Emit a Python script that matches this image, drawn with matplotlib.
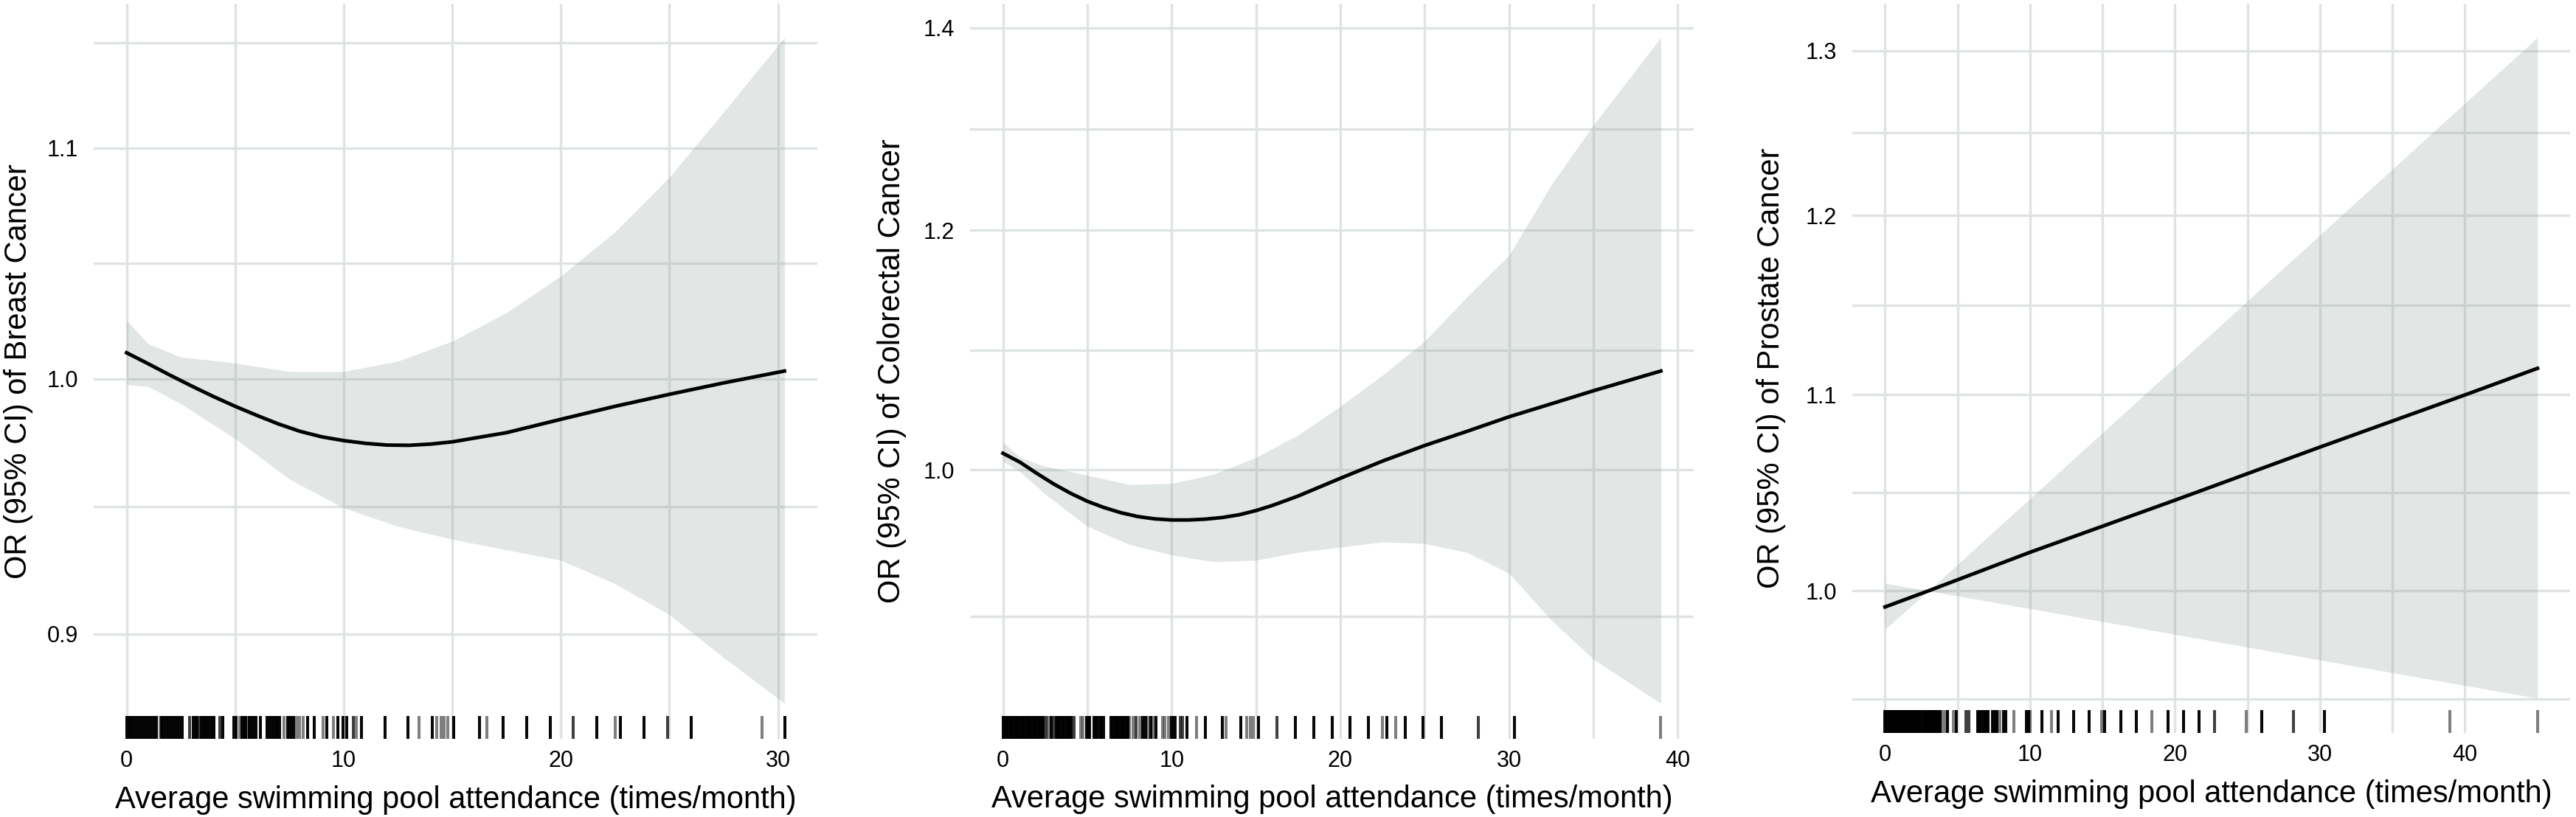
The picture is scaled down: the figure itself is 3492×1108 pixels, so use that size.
import numpy as np
import matplotlib.pyplot as plt
from matplotlib.ticker import FixedLocator, FixedFormatter, NullFormatter
import matplotlib.transforms as mtransforms

plt.rcParams['font.family'] = ['Liberation Sans', 'DejaVu Sans']

# ---- Breast cancer ----
x_breast = [0, 1, 2, 3, 4, 5, 6, 7, 8, 9, 10, 11, 12, 13, 14, 15, 17.5, 20, 22.5, 25, 27.5, 30.3]
or_breast = [1.0108, 1.0062, 1.0015, 0.9970, 0.9927, 0.9887, 0.9850, 0.9815, 0.9785, 0.9763, 0.9748,
             0.9737, 0.9730, 0.9729, 0.9734, 0.9743, 0.9780, 0.9834, 0.9887, 0.9936, 0.9983, 1.0032]
x_breast_ci = [0, 1, 2.5, 5, 7.5, 10, 12.5, 15, 17.5, 20, 22.5, 25, 27.5, 30.3]
hi_breast = [1.0244, 1.0145, 1.0090, 1.0065, 1.0030, 1.0030, 1.0073, 1.0156, 1.0277, 1.0433, 1.0625, 1.0868, 1.1164, 1.1513]
lo_breast = [0.9976, 0.9968, 0.9897, 0.9756, 0.9594, 0.9481, 0.9409, 0.9359, 0.9318, 0.9278, 0.9189, 0.9072, 0.8913, 0.8746]
rug_breast_many = [0, 0.1, 0.2, 0.3, 0.4, 0.5, 0.6, 0.7, 0.8, 0.9, 1.0, 1.1, 1.2, 1.3, 1.36, 1.62, 1.72,
                   1.82, 1.92, 2.02, 2.12, 2.22, 2.32, 2.43, 2.55, 3.06, 3.16, 3.23, 3.45, 3.55, 3.62, 3.74,
                   3.84, 3.94, 4.02, 4.42, 4.93, 5.04, 5.32, 5.42, 5.49, 5.66, 5.76, 5.86, 5.96, 6.17, 6.46,
                   6.56, 6.66, 6.76, 6.86, 6.96, 7.06, 7.42, 7.52, 7.62, 7.7, 8.33, 8.64, 9.23, 9.72, 9.97,
                   10.14, 10.82, 11.9, 12.97, 14.08, 15.05, 16.25, 17.33, 18.42, 19.5, 21.67, 22.75, 23.83,
                   26.0, 30.33]
rug_breast_two = [2.89, 3.34, 4.3, 10.46, 20.58, 24.92]
rug_breast_one = [1.53, 3.68, 5.22, 5.61, 7.25, 7.82, 7.98, 8.13, 9.06, 9.52, 10.59, 13.48, 14.27, 14.5,
                  14.62, 14.8, 16.6, 22.5, 29.25]

# ---- Colorectal cancer ----
x_crc = [0, 1, 2, 3, 4, 5, 6, 7, 8, 9, 10, 11, 12, 13, 14, 15, 16, 17.5, 20, 22.5, 25, 27.5, 30, 32.5, 35, 39]
or_crc = [1.0128, 1.0060, 0.9975, 0.9895, 0.9825, 0.9765, 0.9718, 0.9680, 0.9652, 0.9635, 0.9627, 0.9627,
          0.9633, 0.9645, 0.9665, 0.9696, 0.9735, 0.9804, 0.9937, 1.0068, 1.0188, 1.0298, 1.0413, 1.0516,
          1.0621, 1.0782]
x_crc_ci = [0, 1, 2.5, 5, 7.5, 10, 12.5, 15, 17.5, 20, 22.5, 25, 27.5, 30, 32.5, 35, 39]
hi_crc = [1.0216, 1.0096, 1.0028, 0.9960, 0.9890, 0.9898, 0.9968, 1.0096, 1.0270, 1.0496, 1.0748, 1.1029,
          1.1406, 1.1774, 1.2421, 1.3000, 1.3895]
lo_crc = [1.0068, 0.9988, 0.9819, 0.9581, 0.9449, 0.9374, 0.9326, 0.9337, 0.9393, 0.9430, 0.9468, 0.9456,
          0.9393, 0.9245, 0.8921, 0.8660, 0.8373]
rug_crc_many = [0, 0.1, 0.2, 0.3, 0.4, 0.5, 0.6, 0.7, 0.8, 0.9, 1.0, 1.1, 1.2, 1.3, 1.4, 1.5, 1.6, 1.7, 1.8,
                1.9, 2.0, 2.1, 2.2, 2.3, 2.4, 2.85, 3.16, 3.26, 3.36, 3.46, 3.56, 3.66, 3.76, 3.86, 3.96,
                4.06, 4.95, 5.05, 5.15, 5.4, 5.5, 5.57, 5.75, 5.85, 5.95, 6.4, 6.5, 6.6, 6.7, 6.8, 6.9, 7.0,
                7.1, 7.2, 7.3, 7.39, 8.3, 8.45, 8.75, 9.05, 9.97, 10.1, 10.2, 10.9, 12.0, 13.0, 14.08,
                15.17, 17.33, 18.42, 19.5, 20.58, 21.67, 22.75, 23.83, 24.92, 26.0, 30.33]
rug_crc_two = [2.55, 3.0, 4.2, 7.9, 10.5, 10.65, 16.25, 28.17]
rug_crc_one = [2.7, 4.62, 4.75, 7.5, 7.7, 8.1, 8.6, 8.9, 9.45, 9.6, 9.8, 11.47, 13.22, 14.46, 14.65, 14.85,
               22.5, 23.3, 39.0]

# ---- Prostate cancer ----
x_pc = [0, 3, 10, 20, 30, 40, 45]
or_pc = [0.9922, 1.0000, 1.0189, 1.0450, 1.0723, 1.0998, 1.1141]
x_pc_ci = [0, 3, 10, 20, 30, 40, 45]
hi_pc = [1.0037, 1.0000, 1.0458, 1.1149, 1.1886, 1.2672, 1.3082]
lo_pc = [0.9815, 1.0000, 0.9914, 0.9791, 0.9670, 0.9551, 0.9492]
rug_pc_many = [0, 0.1, 0.2, 0.3, 0.4, 0.5, 0.6, 0.7, 0.8, 0.9, 1.0, 1.1, 1.2, 1.3, 1.4, 1.5, 1.6, 1.7, 1.8,
               1.9, 2.0, 2.1, 2.2, 2.3, 2.4, 2.5, 2.63, 2.73, 2.83, 2.93, 3.03, 3.13, 3.23, 3.33, 3.43, 3.53,
               3.63, 3.73, 3.82, 4.33, 4.9, 6.4, 6.5, 6.6, 6.8, 6.9, 7.0, 7.1, 7.4, 7.5, 7.6, 7.7, 8.2,
               8.35, 9.75, 9.9, 10.8, 11.92, 13.0, 14.08, 15.17, 16.25, 17.33, 19.5, 20.58, 21.67, 26.0,
               30.33]
rug_pc_two = [5.6, 5.8, 22.75, 28.17]
rug_pc_one = [4.0, 4.2, 4.7, 7.9, 8.9, 10.02, 11.47, 14.95, 18.4, 24.92, 38.95, 45.0]

W, H = 3492, 1108
BAND = '#8c9c9a'
GRID = '#dfe3e3'

panels = [
    dict(x=x_breast, y=or_breast, xc=x_breast_ci, lo=lo_breast, hi=hi_breast,
         rug=(rug_breast_many, rug_breast_two, rug_breast_one),
         box=(127, 5, 1108, 1002), xmax=30.3, ylim=(0.86187, 1.16748),
         yt=[0.9, 1.0, 1.1], yl=['0.9', '1.0', '1.1'], ym=[0.9487, 1.0488, 1.1489],
         xt=[0, 10, 20, 30], xm=[5, 15, 25],
         ylab='OR (95% CI) of Breast Cancer', ylab_x=24.6, xlab_base=1096),
    dict(x=x_crc, y=or_crc, xc=x_crc_ci, lo=lo_crc, hi=hi_crc,
         rug=(rug_crc_many, rug_crc_two, rug_crc_one),
         box=(1315, 5, 2296, 1002), xmax=39, ylim=(0.81505, 1.42576),
         yt=[1.0, 1.2, 1.4], yl=['1.0', '1.2', '1.4'], ym=[0.8944, 1.0954, 1.2961],
         xt=[0, 10, 20, 30, 40], xm=[5, 15, 25, 35],
         ylab='OR (95% CI) of Colorectal Cancer', ylab_x=1208.7, xlab_base=1095),
    dict(x=x_pc, y=or_pc, xc=x_pc_ci, lo=lo_pc, hi=hi_pc,
         rug=(rug_pc_many, rug_pc_two, rug_pc_one),
         box=(2511, 5, 3484, 994), xmax=45, ylim=(0.93333, 1.32991),
         yt=[1.0, 1.1, 1.2, 1.3], yl=['1.0', '1.1', '1.2', '1.3'], ym=[0.9487, 1.0488, 1.1489, 1.249],
         xt=[0, 10, 20, 30, 40], xm=[5, 15, 25, 35],
         ylab='OR (95% CI) of Prostate Cancer', ylab_x=2401, xlab_base=1088),
]

fig = plt.figure(figsize=(W / 100, H / 100), dpi=100)

for p in panels:
    l, t, r, b = p['box']
    ax = fig.add_axes([l / W, 1 - b / H, (r - l) / W, (b - t) / H])
    ax.set_yscale('log')
    ax.set_xlim(-0.05 * p['xmax'], 1.05 * p['xmax'])
    ax.set_ylim(*p['ylim'])

    ax.fill_between(p['xc'], p['lo'], p['hi'], color=BAND, alpha=0.25, lw=0, zorder=2)
    ax.plot(p['x'], p['y'], color='black', lw=3.5, zorder=3, solid_joinstyle='round')

    # rug along the bottom: dense values dark, single values grey
    trans = mtransforms.blended_transform_factory(ax.transData, ax.transAxes)
    for vals, a in zip(p['rug'], (0.97, 0.75, 0.5)):
        ax.vlines(vals, 0, 0.031, colors='black', alpha=a, lw=2.9, transform=trans, zorder=4)

    ax.xaxis.set_major_locator(FixedLocator(p['xt']))
    ax.xaxis.set_minor_locator(FixedLocator(p['xm']))
    ax.yaxis.set_major_locator(FixedLocator(p['yt']))
    ax.yaxis.set_major_formatter(FixedFormatter(p['yl']))
    ax.yaxis.set_minor_locator(FixedLocator(p['ym']))
    ax.yaxis.set_minor_formatter(NullFormatter())

    ax.grid(which='both', color=GRID, lw=2.4, zorder=0)
    ax.set_axisbelow(True)
    for s in ax.spines.values():
        s.set_visible(False)
    ax.tick_params(which='both', length=0, labelsize=22, colors='black')
    ax.tick_params(axis='x', pad=11)
    ax.tick_params(axis='y', pad=15)

    ax.set_xlabel('Average swimming pool attendance (times/month)', fontsize=30)
    ax.set_ylabel(p['ylab'], fontsize=30)
    ax.xaxis.set_label_coords(0.5, (b - p['xlab_base']) / (b - t))
    ax.xaxis.label.set_va('baseline')
    ax.yaxis.set_label_coords((p['ylab_x'] - l) / (r - l), 0.5)
    ax.yaxis.label.set_va('center')

fig.savefig('out.png', dpi=100, facecolor='white')
